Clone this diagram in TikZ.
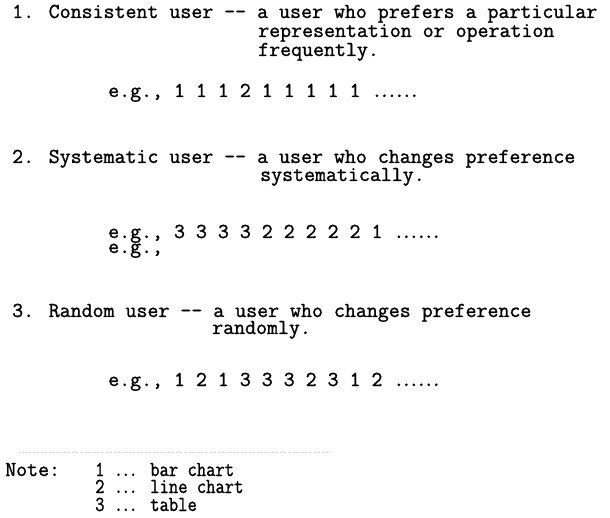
\documentclass[tikz,border=0pt]{standalone}
\usepackage{fontspec}
\usepackage[dvipsnames]{xcolor}
\newfontfamily\typerfont{Latin Modern Mono}[FakeBold=1.2]
\newfontfamily\notefont{Latin Modern Mono}[FakeBold=1.2,FakeStretch=0.85]
\newcommand\dotrow{.\kern-3.5pt.\kern-3.5pt.\kern-3.5pt.\kern-3.5pt.\kern-3.5pt.}
\newcommand\dotthree{.\kern-2pt.\kern-2pt.}

\begin{document}
\begin{tikzpicture}[x=1pt,y=-1pt,typed/.style={anchor=base west,inner sep=0pt,font=\fontsize{21.3}{24}\selectfont\typerfont},noted/.style={anchor=base west,inner sep=0pt,font=\fontsize{21.3}{24}\selectfont\notefont},faint/.style={draw=gray!45,dotted,line width=0.6pt}]
                \useasboundingbox (0,0) rectangle (610,518);

                % consistent user
                \node[typed] (c1) at (12,18) {1. Consistent user -- a user who prefers a particular};
                \node[typed] (c2) at (258,37) {representation or operation};
                \node[typed] (c3) at (258,56) {frequently.};
                \node[typed] (ceg) at (108,97) {e.g., 1 1 1 2 1 1 1 1 1 \dotrow};

                % systematic user
                \node[typed] (s1) at (12,163) {2. Systematic user -- a user who changes preference};
                \node[typed] (s2) at (260,181) {systematically.};
                \node[typed] (seg) at (108,238) {e.g., 3 3 3 3 2 2 2 2 2 1 \dotrow};
                \node[typed] (seg2) at (108,253) {e.g.,};

                % random user
                \node[typed] (r1) at (12,317) {3. Random user -- a user who changes preference};
                \node[typed] (r2) at (212,334) {randomly.};
                \node[typed] (reg) at (108,386) {e.g., 1 2 1 3 3 3 2 3 1 2 \dotrow};

                % note
                \coordinate (rulea) at (20,452);
                \coordinate (ruleb) at (330,452);
                \draw[faint] (rulea) -- (ruleb);
                \node[typed] (n1) at (5,476) {Note:};
                \node[noted] (n2) at (95,476) {1 \dotthree{} bar chart};
                \node[noted] (n3) at (95,493) {2 \dotthree{} line chart};
                \node[noted] (n4) at (95,511) {3 \dotthree{} table};
            \end{tikzpicture}
\end{document}
